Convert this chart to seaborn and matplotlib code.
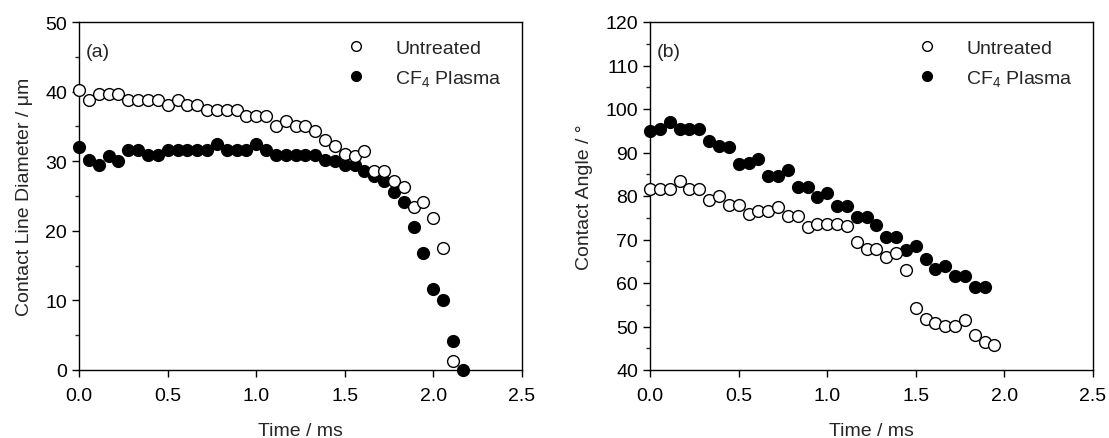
import matplotlib
matplotlib.use("Agg")
import matplotlib.pyplot as plt
from matplotlib.ticker import MultipleLocator, AutoMinorLocator, FormatStrFormatter
from matplotlib.lines import Line2D
import seaborn as sns
import pandas as pd

# frame times (ms)
time_ms = [0.000, 0.056, 0.111, 0.167, 0.222, 0.278, 0.333, 0.389, 0.444, 0.500,
           0.556, 0.611, 0.667, 0.722, 0.778, 0.833, 0.889, 0.944, 1.000, 1.056,
           1.111, 1.167, 1.222, 1.278, 1.333, 1.389, 1.444, 1.500, 1.556, 1.611,
           1.667, 1.722, 1.778, 1.833, 1.889, 1.944, 2.000, 2.056, 2.111, 2.167]

# (a) contact line diameter / um
diam_untreated = [40.3, 38.8, 39.7, 39.7, 39.7, 38.8, 38.8, 38.8, 38.8, 38.1,
                  38.8, 38.1, 38.1, 37.4, 37.4, 37.4, 37.4, 36.5, 36.5, 36.5,
                  35.1, 35.8, 35.1, 35.1, 34.4, 33.0, 32.2, 31.0, 30.8, 31.5,
                  28.6, 28.6, 27.2, 26.3, 23.4, 24.2, 21.9, 17.5, 1.3]
diam_cf4 = [32.1, 30.2, 29.4, 30.8, 30.1, 31.6, 31.6, 30.9, 30.9, 31.6,
            31.6, 31.6, 31.6, 31.6, 32.4, 31.6, 31.6, 31.6, 32.4, 31.6,
            30.9, 30.9, 30.9, 30.9, 30.9, 30.2, 30.1, 29.4, 29.4, 28.6,
            27.9, 27.1, 25.6, 24.1, 20.5, 16.8, 11.6, 10.1, 4.2, 0.0]

# (b) contact angle / deg
angle_untreated = [81.6, 81.6, 81.6, 83.5, 81.5, 81.5, 79.1, 80.1, 77.9, 77.9,
                   75.8, 76.6, 76.6, 77.5, 75.3, 75.3, 72.8, 73.6, 73.6, 73.6,
                   73.0, 69.5, 67.9, 67.9, 66.0, 67.0, 62.9, 54.3, 51.7, 50.9,
                   50.1, 50.1, 51.4, 48.1, 46.5, 45.8]
angle_cf4 = [94.9, 95.4, 97.0, 95.3, 95.3, 95.3, 92.7, 91.5, 91.3, 87.3,
             87.5, 88.6, 84.7, 84.7, 86.0, 82.1, 82.1, 79.7, 80.7, 77.8,
             77.8, 75.1, 75.1, 73.3, 70.5, 70.5, 67.7, 68.6, 65.5, 63.2,
             64.0, 61.5, 61.5, 59.0, 59.0]

labels = ["Untreated", "CF$_4$ Plasma"]

sns.set_style("ticks")
plt.rcParams['font.family'] = ['Liberation Sans', 'DejaVu Sans']
plt.rcParams['mathtext.fontset'] = 'custom'
plt.rcParams['mathtext.rm'] = 'Liberation Sans'
plt.rcParams['mathtext.it'] = 'Liberation Sans'
plt.rcParams['font.size'] = 14

fig = plt.figure(figsize=(11.09, 4.39), dpi=100)
ax1 = fig.add_axes([79 / 1109, 68 / 439, 443 / 1109, 348 / 439])
ax2 = fig.add_axes([650 / 1109, 68 / 439, 443 / 1109, 348 / 439])

MS = 72
LW = 1.0


def draw(ax, y_open, y_fill):
    d_open = pd.DataFrame({"t": time_ms[:len(y_open)], "v": y_open})
    d_fill = pd.DataFrame({"t": time_ms[:len(y_fill)], "v": y_fill})
    sns.scatterplot(data=d_fill, x="t", y="v", ax=ax, s=MS, color="black",
                    edgecolor="black", linewidth=LW, clip_on=False, zorder=3, legend=False)
    sns.scatterplot(data=d_open, x="t", y="v", ax=ax, s=MS, facecolor="white",
                    edgecolor="black", linewidth=LW, clip_on=False, zorder=4, legend=False)


draw(ax1, diam_untreated, diam_cf4)
draw(ax2, angle_untreated, angle_cf4)

handles = [Line2D([], [], ls="none", marker="o", markersize=7, markerfacecolor="white",
                  markeredgecolor="black", markeredgewidth=1.0),
           Line2D([], [], ls="none", marker="o", markersize=7, markerfacecolor="black",
                  markeredgecolor="black")]

for ax, ylim, ystep, ylabel, tag in [(ax1, (0, 50), 10, "Contact Line Diameter / μm", "(a)"),
                                     (ax2, (40, 120), 10, "Contact Angle / °", "(b)")]:
    ax.set_xlim(0, 2.5)
    ax.set_ylim(*ylim)
    ax.xaxis.set_major_locator(MultipleLocator(0.5))
    ax.xaxis.set_major_formatter(FormatStrFormatter("%.1f"))
    ax.yaxis.set_major_locator(MultipleLocator(ystep))
    ax.yaxis.set_minor_locator(AutoMinorLocator(2))
    ax.tick_params(which="major", direction="out", length=5, width=1, labelsize=14, colors="black")
    ax.tick_params(which="minor", direction="out", length=3, width=1)
    ax.tick_params(axis="x", which="major", pad=7)
    for sp in ax.spines.values():
        sp.set_linewidth(1.0)
        sp.set_color("black")
    ax.set_xlabel("Time / ms", fontsize=14, labelpad=13)
    ax.set_ylabel(ylabel, fontsize=14, labelpad=9)
    ax.text(0.015, 0.915, tag, transform=ax.transAxes, fontsize=14, va="center", ha="left")
    ax.legend(handles, labels, loc="upper right", frameon=False, fontsize=14,
              handletextpad=1.05, labelspacing=0.55, borderaxespad=0.5,
              bbox_to_anchor=(0.995, 1.0))

fig.savefig("out.png", dpi=100)
